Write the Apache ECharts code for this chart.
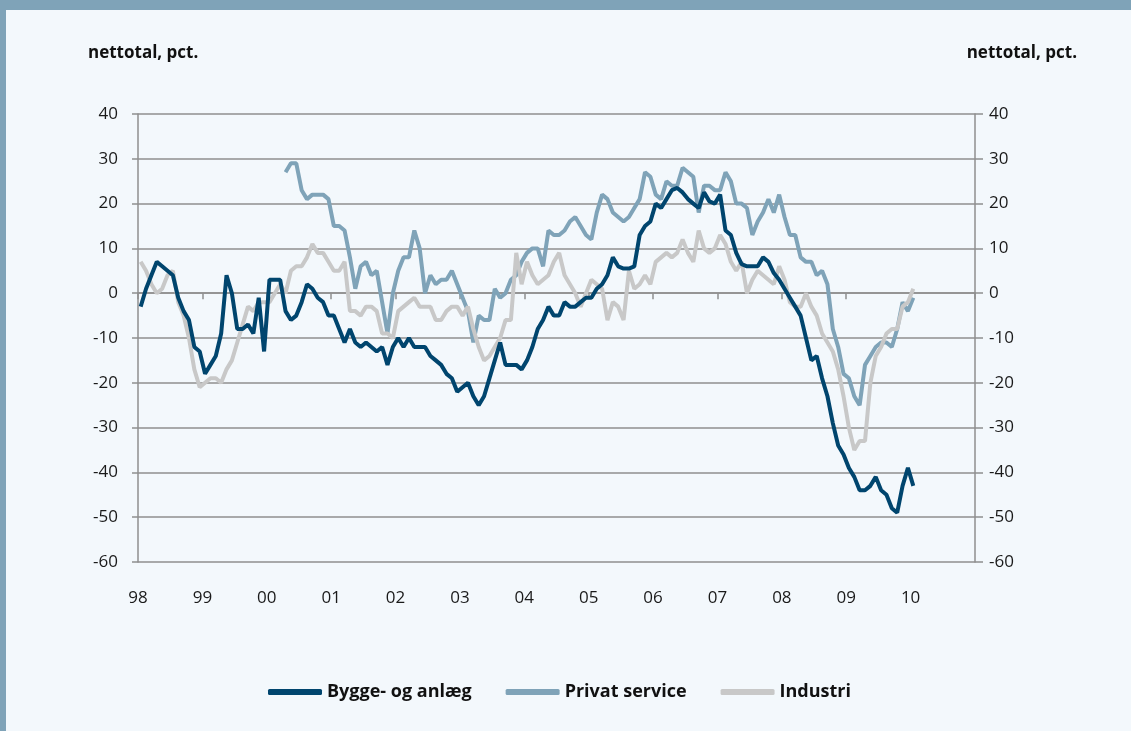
<!DOCTYPE html>
<html>
<head>
<meta charset="utf-8">
<script src="https://cdn.jsdelivr.net/npm/echarts@6/dist/echarts.min.js"></script>
<style>
html,body{margin:0;padding:0;background:#f3f8fc;}
#c{width:1131px;height:731px;}
</style>
</head>
<body>
<div id="c"></div>
<script>
// Monthly data, Jan 1998 onwards (index 0 = Jan 1998)
const startYear = 1998;
const seriesNames = ['Bygge- og anlæg', 'Privat service', 'Industri'];
const yTicks = [-60, -50, -40, -30, -20, -10, 0, 10, 20, 30, 40];
const yearLabels = ['98','99','00','01','02','03','04','05','06','07','08','09','10'];
const unitLabel = 'nettotal, pct.';

const bygge = [
  -3,1,4,7,6,5,4,-1,-4,-6,
  -12,-13,-18,-16,-14,-9,4,0,-8,-8,
  -7,-9,-1,-13,3,3,3,-4,-6,-5,
  -2,2,1,-1,-2,-5,-5,-8,-11,-8,
  -11,-12,-11,-12,-13,-12,-16,-12,-10,-12,
  -10,-12,-12,-12,-14,-15,-16,-18,-19,-22,
  -21,-20,-23,-25,-23,-19,-15,-11,-16,-16,
  -16,-17,-15,-12,-8,-6,-3,-5,-5,-2,
  -3,-3,-2,-1,-1,1,2,4,8,6,
  5.5,5.5,6,13,15,16,20,19,21,23,
  23.5,22.5,21,20,19,22.5,20.5,20,22,14,
  13,9,6.5,6,6,6,8,7,4.5,3,
  1,-1,-3,-5,-10,-15,-14,-19,-23,-29,
  -34,-36,-39,-41,-44,-44,-43,-41,-44,-45,
  -48,-49,-43,-39,-43
];
// Privat service starts in Apr 2000 (index 27)
const privatStart = 27;
const privat = [
  27,29,29,
  23,21,22,22,22,21,15,15,14,8,
  1,6,7,4,5,-2,-9,0,5,8,
  8,14,10,0,4,2,3,3,5,2,
  -1,-4,-11,-5,-6,-6,1,-1,0,3,
  4,7,9,10,10,6,14,13,13,14,
  16,17,15,13,12,18,22,21,18,17,
  16,17,19,21,27,26,22,21,25,24,
  24,28,27,26,18,24,24,23,23,27,
  25,20,20,19,13,16,18,21,18,22,
  17,13,13,8,7,7,4,5,2,-8,
  -12,-18,-19,-23,-25,-16,-14,-12,-11,-11,
  -12,-8,-2,-4,-1
];
const industri = [
  7,5,2,0,1,4,5,-2,-5,-10,
  -17,-21,-20,-19,-19,-20,-17,-15,-11,-7,
  -3,-4,-2,-2,-2,0,2,0,5,6,
  6,8,11,9,9,7,5,5,7,-4,
  -4,-5,-3,-3,-4,-9,-9,-10,-4,-3,
  -2,-1,-3,-3,-3,-6,-6,-4,-3,-3,
  -5,-3,-8,-12,-15,-14,-12,-10,-6,-6,
  9,2,7,4,2,3,4,7,9,4,
  2,0,-3,0,3,2,1,-6,-2,-3,
  -6,5,1,2,4,2,7,8,9,8,
  9,12,9,7,14,10,9,10,13,11,
  7,5,7,0,3,5,4,3,2,6,
  3,-2,-3,-3,0,-3,-5,-9,-11,-13,
  -17,-23,-30,-35,-33,-33,-20,-14,-12,-9,
  -8,-8,-3,-2,1
];

function toPoints(arr, offset) {
  return arr.map((v, i) => [offset + i + 0.5, v]);
}

const colors = ['#00456e', '#7fa3b8', '#c8c8c8'];
const font = '"Open Sans", "Noto Sans", sans-serif';
const gridColor = '#8f8f8f';

const chart = echarts.init(document.getElementById('c'));
chart.setOption({
  backgroundColor: '#f3f8fc',
  animation: false,
  textStyle: { fontFamily: font },
  graphic: [
    { type: 'rect', left: 0, top: 0, shape: { width: 1131, height: 10 }, style: { fill: '#7fa3b8' }, silent: true },
    { type: 'rect', left: 0, top: 0, shape: { width: 6, height: 731 }, style: { fill: '#7fa3b8' }, silent: true },
    { type: 'text', left: 88, top: 45, style: { text: unitLabel, font: 'bold 17px ' + font, fill: '#111' } },
    { type: 'text', right: 54, top: 45, style: { text: unitLabel, font: 'bold 17px ' + font, fill: '#111' } }
  ],
  grid: { left: 138, right: 156, top: 114, bottom: 169, containLabel: false, outerBoundsMode: 'none' },
  legend: {
    top: 678,
    left: 263,
    icon: 'roundRect',
    itemWidth: 54,
    itemHeight: 6,
    itemGap: 34,
    textStyle: { fontSize: 18, fontWeight: 'bold', color: '#111', fontFamily: font },
    data: seriesNames
  },
  xAxis: {
    type: 'value',
    min: 0,
    max: 156,
    interval: 12,
    axisLine: { show: true, onZero: true, lineStyle: { color: gridColor, width: 1.5 } },
    axisTick: { show: true, length: 6, lineStyle: { color: gridColor, width: 1.5 } },
    splitLine: { show: false },
    axisLabel: {
      margin: 28,
      fontSize: 17,
      color: '#1a1a1a',
      formatter: function (v) {
        const i = Math.round(v / 12);
        return i < yearLabels.length ? yearLabels[i] : '';
      }
    }
  },
  yAxis: [
    {
      type: 'value', min: yTicks[0], max: yTicks[yTicks.length - 1], interval: 10, position: 'left',
      axisLine: { show: true, lineStyle: { color: gridColor, width: 1.5 } },
      axisTick: { show: true, length: 6, lineStyle: { color: gridColor, width: 1.5 } },
      splitLine: { show: true, lineStyle: { color: gridColor, width: 1.5 } },
      axisLabel: { margin: 20, fontSize: 17, color: '#1a1a1a' }
    },
    {
      type: 'value', min: yTicks[0], max: yTicks[yTicks.length - 1], interval: 10, position: 'right',
      axisLine: { show: true, lineStyle: { color: gridColor, width: 1.5 } },
      axisTick: { show: true, length: 8, lineStyle: { color: gridColor, width: 1.5 } },
      splitLine: { show: false },
      axisLabel: { margin: 14, fontSize: 17, color: '#1a1a1a' }
    }
  ],
  series: [
    { name: seriesNames[0], type: 'line', data: toPoints(bygge, 0), showSymbol: false, z: 5,
      lineStyle: { color: colors[0], width: 4 }, itemStyle: { color: colors[0] } },
    { name: seriesNames[1], type: 'line', data: toPoints(privat, privatStart), showSymbol: false, z: 3,
      lineStyle: { color: colors[1], width: 4 }, itemStyle: { color: colors[1] } },
    { name: seriesNames[2], type: 'line', data: toPoints(industri, 0), showSymbol: false, z: 4,
      lineStyle: { color: colors[2], width: 4 }, itemStyle: { color: colors[2] } }
  ]
});
</script>
</body>
</html>
